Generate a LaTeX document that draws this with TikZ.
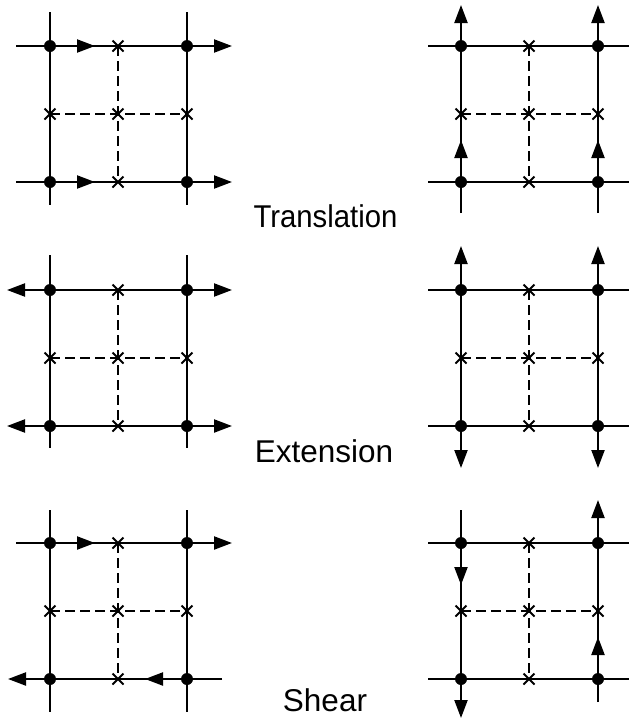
\documentclass[tikz,border=0pt]{standalone}
\usepackage{fontspec}
\setmainfont{Liberation Sans}
\usetikzlibrary{arrows.meta,shapes.misc}
\tikzset{
  dotnode/.style={circle,fill=black,inner sep=0pt,minimum size=12pt},
  crossnode/.style={cross out,draw=black,line width=2pt,inner sep=0pt,minimum size=9pt},
  solidline/.style={line width=2.2pt,black},
  dashline/.style={line width=2pt,black,dash pattern=on 10pt off 5pt},
  arr/.style={solidline,-{Triangle[length=18pt,width=13pt]}},
  darr/.style={solidline,{Triangle[length=18pt,width=13pt]}-{Triangle[length=18pt,width=13pt]}},
  lbl/.style={anchor=base,inner sep=0pt,font=\fontsize{31.5}{36}\selectfont}
}
\newcommand\mygrid[3]{%
  \begin{scope}[shift={(#2,#3)}]
    \coordinate (#1otl) at (0,0);
    \coordinate (#1otr) at (137,0);
    \coordinate (#1obl) at (0,136);
    \coordinate (#1obr) at (137,136);
    \node[crossnode] (#1t) at (68,0) {};
    \node[crossnode] (#1b) at (68,136) {};
    \node[crossnode] (#1l) at (0,68) {};
    \node[crossnode] (#1c) at (68,68) {};
    \node[crossnode] (#1r) at (137,68) {};
    \draw[dashline] (#1t.center) -- (#1b.center);
    \draw[dashline] (#1l.center) -- (#1r.center);
  \end{scope}}
\newcommand\mydots[1]{%
  \node[dotnode] (#1tl) at (#1otl) {};
  \node[dotnode] (#1tr) at (#1otr) {};
  \node[dotnode] (#1bl) at (#1obl) {};
  \node[dotnode] (#1br) at (#1obr) {};}
\begin{document}
\begin{tikzpicture}[x=1pt,y=-1pt]
\useasboundingbox (0,0) rectangle (629,721);
% ---------------- Panel A: translation (horizontal)
\mygrid{A}{50}{46}
\coordinate (Ah1s) at (16,46);  \coordinate (Ah1e) at (232,46);
\coordinate (Ah2s) at (16,182); \coordinate (Ah2e) at (232,182);
\coordinate (Av1s) at (50,12);  \coordinate (Av1e) at (50,205);
\coordinate (Av2s) at (187,12); \coordinate (Av2e) at (187,205);
\coordinate (Am1) at (95,46);   \coordinate (Am2) at (95,182);
\draw[arr] (Ah1s) -- (Ah1e);
\draw[arr] (Ah2s) -- (Ah2e);
\draw[solidline] (Av1s) -- (Av1e);
\draw[solidline] (Av2s) -- (Av2e);
\mydots{A}
\draw[arr] (Atl.center) -- (Am1);
\draw[arr] (Abl.center) -- (Am2);
% ---------------- Panel B: translation (vertical)
\mygrid{B}{461}{46}
\coordinate (Bh1s) at (428,46);  \coordinate (Bh1e) at (629,46);
\coordinate (Bh2s) at (428,182); \coordinate (Bh2e) at (629,182);
\coordinate (Bv1s) at (461,213); \coordinate (Bv1e) at (461,5);
\coordinate (Bv2s) at (598,213); \coordinate (Bv2e) at (598,5);
\coordinate (Bm1) at (461,140);  \coordinate (Bm2) at (598,140);
\draw[solidline] (Bh1s) -- (Bh1e);
\draw[solidline] (Bh2s) -- (Bh2e);
\draw[arr] (Bv1s) -- (Bv1e);
\draw[arr] (Bv2s) -- (Bv2e);
\mydots{B}
\draw[arr] (Bbl.center) -- (Bm1);
\draw[arr] (Bbr.center) -- (Bm2);
% ---------------- Panel C: extension (horizontal)
\mygrid{C}{50}{290}
\coordinate (Ch1s) at (7,290);  \coordinate (Ch1e) at (232,290);
\coordinate (Ch2s) at (7,426);  \coordinate (Ch2e) at (232,426);
\coordinate (Cv1s) at (50,255); \coordinate (Cv1e) at (50,448);
\coordinate (Cv2s) at (187,255); \coordinate (Cv2e) at (187,448);
\draw[darr] (Ch1s) -- (Ch1e);
\draw[darr] (Ch2s) -- (Ch2e);
\draw[solidline] (Cv1s) -- (Cv1e);
\draw[solidline] (Cv2s) -- (Cv2e);
\mydots{C}
% ---------------- Panel D: extension (vertical)
\mygrid{D}{461}{290}
\coordinate (Dh1s) at (428,290);  \coordinate (Dh1e) at (629,290);
\coordinate (Dh2s) at (428,426);  \coordinate (Dh2e) at (629,426);
\coordinate (Dv1s) at (461,246);  \coordinate (Dv1e) at (461,468);
\coordinate (Dv2s) at (598,246);  \coordinate (Dv2e) at (598,468);
\draw[solidline] (Dh1s) -- (Dh1e);
\draw[solidline] (Dh2s) -- (Dh2e);
\draw[darr] (Dv1s) -- (Dv1e);
\draw[darr] (Dv2s) -- (Dv2e);
\mydots{D}
% ---------------- Panel E: shear (horizontal)
\mygrid{E}{50}{543}
\coordinate (Eh1s) at (16,543);  \coordinate (Eh1e) at (232,543);
\coordinate (Eh2s) at (222,679); \coordinate (Eh2e) at (8,679);
\coordinate (Ev1s) at (50,510);  \coordinate (Ev1e) at (50,712);
\coordinate (Ev2s) at (187,510); \coordinate (Ev2e) at (187,712);
\coordinate (Em1) at (95,543);   \coordinate (Em2) at (145,679);
\draw[arr] (Eh1s) -- (Eh1e);
\draw[arr] (Eh2s) -- (Eh2e);
\draw[solidline] (Ev1s) -- (Ev1e);
\draw[solidline] (Ev2s) -- (Ev2e);
\mydots{E}
\draw[arr] (Etl.center) -- (Em1);
\draw[arr] (Ebr.center) -- (Em2);
% ---------------- Panel F: shear (vertical)
\mygrid{F}{461}{543}
\coordinate (Fh1s) at (428,543);  \coordinate (Fh1e) at (629,543);
\coordinate (Fh2s) at (428,679);  \coordinate (Fh2e) at (629,679);
\coordinate (Fv1s) at (461,510);  \coordinate (Fv1e) at (461,718);
\coordinate (Fv2s) at (598,702);  \coordinate (Fv2e) at (598,500);
\coordinate (Fm1) at (461,585);   \coordinate (Fm2) at (598,637);
\draw[solidline] (Fh1s) -- (Fh1e);
\draw[solidline] (Fh2s) -- (Fh2e);
\draw[arr] (Fv1s) -- (Fv1e);
\draw[arr] (Fv2s) -- (Fv2e);
\mydots{F}
\draw[arr] (Ftl.center) -- (Fm1);
\draw[arr] (Fbr.center) -- (Fm2);
% ---------------- Labels
\node[lbl] (ltrans) at (325.5,227) {\scalebox{0.93}[1]{Translation}};
\node[lbl] (lext) at (324,462) {Extension};
\node[lbl] (lshear) at (325,711) {Shear};
\end{tikzpicture}
\end{document}
